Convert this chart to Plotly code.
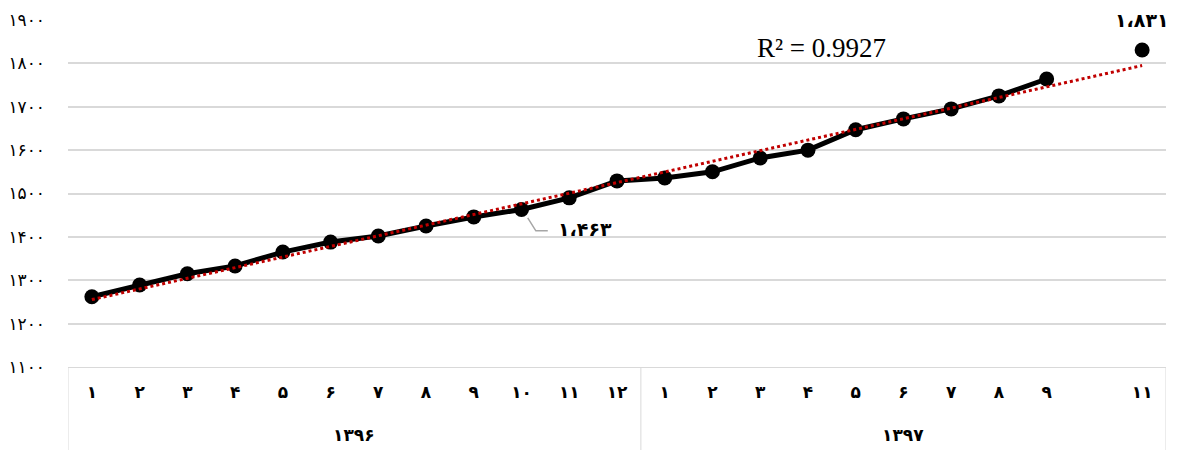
import numpy as np
import plotly.graph_objects as go

# ---- data ----
months_1396 = ["۱", "۲", "۳", "۴", "۵", "۶", "۷", "۸", "۹", "۱۰", "۱۱", "۱۲"]
months_1397 = ["۱", "۲", "۳", "۴", "۵", "۶", "۷", "۸", "۹", " ", "۱۱"]
years = ["۱۳۹۶", "۱۳۹۷"]
values_1396 = [1262, 1289, 1315, 1333, 1365, 1388, 1402, 1425, 1446, 1463, 1490, 1529]
values_1397 = [1536, 1550, 1582, 1600, 1647, 1672, 1695, 1725, 1764, None, 1831]
y_ticks = [1100, 1200, 1300, 1400, 1500, 1600, 1700, 1800, 1900]
fa_digits = "۰۱۲۳۴۵۶۷۸۹"
r2_text = "R² = 0.9927"
label_1463 = "۱،۴۶۳"
label_1831 = "۱،۸۳۱"


def to_fa(n):
    return "".join(fa_digits[int(c)] for c in str(n))


labels = months_1396 + months_1397
values = values_1396 + values_1397
xs = list(range(len(labels)))
n1 = len(months_1396)

# linear trend (like Excel trendline) over available points
fx = [x for x, v in zip(xs, values) if v is not None]
fy = [v for v in values if v is not None]
slope, intercept = np.polyfit(fx, fy, 1)
trend_x = [xs[0], xs[-1]]
trend_y = [intercept + slope * x for x in trend_x]

line_vals = values[:-1]  # connected line stops before the gap
fig = go.Figure()
fig.add_trace(go.Scatter(
    x=xs[:-1], y=line_vals, mode="lines+markers",
    line=dict(color="black", width=5),
    marker=dict(color="black", size=15),
    connectgaps=False, hoverinfo="skip", showlegend=False,
))
fig.add_trace(go.Scatter(
    x=[xs[-1]], y=[values[-1]], mode="markers",
    marker=dict(color="black", size=15), hoverinfo="skip", showlegend=False,
))
fig.add_trace(go.Scatter(
    x=trend_x, y=trend_y, mode="lines",
    line=dict(color="#c00000", width=3, dash="dot"),
    hoverinfo="skip", showlegend=False,
))

bottom = -83 / 347
# table-like borders of the category axis
for xv in [-0.5, n1 - 0.5, len(labels) - 0.5]:
    fig.add_shape(type="line", xref="x", yref="paper", x0=xv, x1=xv, y0=0, y1=bottom,
                  line=dict(color="#d9d9d9", width=1))

# year group labels
fig.add_annotation(x=(n1 - 1) / 2, y=-0.196, xref="x", yref="paper", text=f"<b>{years[0]}</b>",
                   showarrow=False, yanchor="middle",
                   font=dict(family="DejaVu Sans", size=17, color="black"))
fig.add_annotation(x=n1 + (len(months_1397) - 1) / 2, y=-0.196, xref="x", yref="paper",
                   text=f"<b>{years[1]}</b>", showarrow=False, yanchor="middle",
                   font=dict(family="DejaVu Sans", size=17, color="black"))

# data label 1,463 with leader line
i10 = 9
fig.add_shape(type="path", xref="x", yref="y",
              path=f"M {i10 + 0.13},1444 L {i10 + 0.3},1414 L {i10 + 0.55},1414",
              line=dict(color="#a6a6a6", width=1.5))
fig.add_annotation(x=i10 + 0.72, y=1419, xref="x", yref="y", text=f"<b>{label_1463}</b>",
                   showarrow=False, xanchor="left",
                   font=dict(family="DejaVu Sans", size=19, color="black"))
# data label 1,831
fig.add_annotation(x=xs[-1], y=values[-1], xref="x", yref="y", text=f"<b>{label_1831}</b>",
                   showarrow=False, yshift=30,
                   font=dict(family="DejaVu Sans", size=19, color="black"))
# R^2
fig.add_annotation(x=15.29, y=1836, xref="x", yref="y", text=r2_text, showarrow=False,
                   font=dict(family="Liberation Serif", size=27, color="black"))

# the page body has an 8px margin, so the figure is sized / offset accordingly
fig.update_layout(
    width=1181, height=442,
    margin=dict(l=60, r=23, t=12, b=83),
    plot_bgcolor="white", paper_bgcolor="white",
    xaxis=dict(
        range=[-0.5, len(labels) - 0.5], tickmode="array", tickvals=xs,
        ticktext=[f"<b>{t}</b>" for t in labels],
        showgrid=False, zeroline=False, showline=True, linecolor="#d9d9d9", linewidth=1,
        ticks="", ticklabelstandoff=10, automargin=False,
        tickfont=dict(family="DejaVu Sans", size=17, color="black"),
    ),
    yaxis=dict(
        range=[1100, 1900], tickmode="array", tickvals=y_ticks,
        ticktext=[to_fa(v) for v in y_ticks],
        showgrid=True, gridcolor="#d9d9d9", gridwidth=1.5, zeroline=False, showline=False,
        ticks="", ticklabelstandoff=22, automargin=False,
        tickfont=dict(family="DejaVu Sans", size=17, color="black"),
    ),
)

fig.write_html("out.html")
